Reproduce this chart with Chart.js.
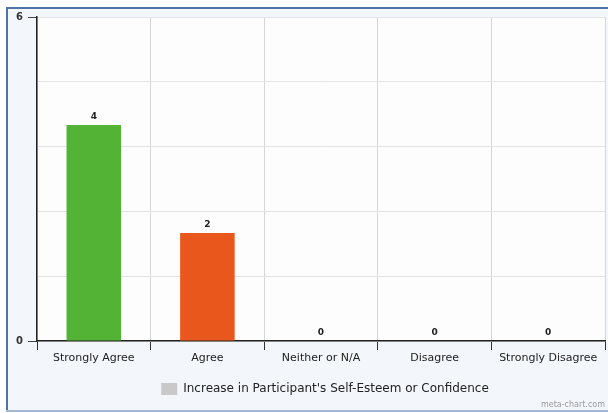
<!DOCTYPE html>
<html>
<head>
<meta charset="utf-8">
<script src="https://cdn.jsdelivr.net/npm/chart.js@4/dist/chart.umd.min.js"></script>
<style>
  html, body { margin: 0; padding: 0; background: #ffffff; overflow: hidden; }
  #c { display: block; }
</style>
</head>
<body>
<canvas id="c" width="608" height="413"></canvas>
<script>
// Survey responses
const categories = ['Strongly Agree', 'Agree', 'Neither or N/A', 'Disagree', 'Strongly Disagree'];
const responseCounts = [4, 2, 0, 0, 0];
const barColors = ['#52b334', '#e9571c', '#9c9c9c', '#9c9c9c', '#9c9c9c'];
const seriesName = "Increase in Participant's Self-Esteem or Confidence";
const yTickValues = [0, 1.2, 2.4, 3.6, 4.8, 6];
const yLabeledTicks = [0, 6];

const FONT = '"DejaVu Sans", Verdana, sans-serif';

// panel frame, tinted backdrop and white plotting area
const backdrop = {
  id: 'backdrop',
  beforeDraw(chart) {
    const { ctx, chartArea: a, width, height } = chart;
    ctx.save();
    ctx.fillStyle = '#ffffff';
    ctx.fillRect(0, 0, width, height);
    ctx.fillStyle = '#f3f6fa';
    ctx.fillRect(6, 7, width - 6, height - 9);
    ctx.fillStyle = '#4d76a6';
    ctx.fillRect(6, 7, width - 6, 2);
    ctx.fillRect(6, 7, 2, height - 9);
    ctx.fillStyle = '#a3b8d3';
    ctx.fillRect(6, height - 3, width - 6, 2);
    ctx.fillStyle = '#fdfdfd';
    ctx.fillRect(a.left, a.top, a.right - a.left, a.bottom - a.top);
    ctx.restore();
  }
};

// value printed above each bar
const valueLabels = {
  id: 'valueLabels',
  afterDatasetsDraw(chart) {
    const { ctx } = chart;
    const meta = chart.getDatasetMeta(0);
    ctx.save();
    ctx.font = 'bold 9px ' + FONT;
    ctx.fillStyle = '#1e1e1e';
    ctx.textAlign = 'center';
    ctx.textBaseline = 'bottom';
    meta.data.forEach((bar, i) => {
      ctx.fillText(String(responseCounts[i]), bar.x, bar.y - 4);
    });
    ctx.restore();
  }
};

// legend swatch + series name, and the site credit
const footer = {
  id: 'footer',
  afterDraw(chart) {
    const { ctx, chartArea: a } = chart;
    ctx.save();
    ctx.font = '12px ' + FONT;
    const tw = ctx.measureText(seriesName).width;
    const box = 16, gap = 6;
    const total = box + gap + tw;
    const x0 = (a.left + a.right) / 2 - total / 2 + 4;
    const cy = a.bottom + 48;
    ctx.fillStyle = '#c9c9c9';
    ctx.fillRect(x0, cy - 6, box, 12);
    ctx.fillStyle = '#222';
    ctx.textBaseline = 'middle';
    ctx.textAlign = 'left';
    ctx.fillText(seriesName, x0 + box + gap, cy);
    ctx.font = '8px ' + FONT;
    ctx.fillStyle = '#9a9a9a';
    ctx.textAlign = 'right';
    ctx.fillText('meta-chart.com', a.right, a.bottom + 64);
    ctx.restore();
  }
};

new Chart(document.getElementById('c'), {
  type: 'bar',
  data: {
    labels: categories,
    datasets: [{
      label: seriesName,
      data: responseCounts,
      backgroundColor: barColors,
      borderWidth: 0,
      barPercentage: 0.48,
      categoryPercentage: 1
    }]
  },
  options: {
    responsive: false,
    animation: false,
    devicePixelRatio: 1,
    layout: { padding: { left: 0, top: 17, right: 3, bottom: 0 } },
    plugins: {
      legend: { display: false },
      tooltip: { enabled: false }
    },
    scales: {
      x: {
        afterFit(scale) { scale.height = 72; },
        grid: {
          offset: true,
          color: '#d6d6d6',
          tickColor: '#333',
          tickLength: 9,
          lineWidth: 1
        },
        border: { color: '#222', width: 1.5 },
        ticks: {
          font: { family: FONT, size: 11 },
          color: '#222',
          padding: 2,
          maxRotation: 0,
          autoSkip: false
        }
      },
      y: {
        min: 0,
        max: 6,
        afterFit(scale) { scale.width = 37; },
        afterBuildTicks(scale) {
          scale.ticks = yTickValues.map(v => ({ value: v }));
        },
        grid: {
          color: '#e3e3e3',
          tickLength: 9,
          tickColor: (c) => (c.tick && yLabeledTicks.includes(c.tick.value)) ? '#444' : 'rgba(0,0,0,0)'
        },
        border: { color: '#222', width: 1.5 },
        ticks: {
          font: { family: FONT, size: 10, weight: 'bold' },
          color: '#333',
          padding: 5,
          callback: (v) => yLabeledTicks.includes(v) ? String(v) : ''
        }
      }
    }
  },
  plugins: [backdrop, valueLabels, footer]
});
</script>
</body>
</html>
